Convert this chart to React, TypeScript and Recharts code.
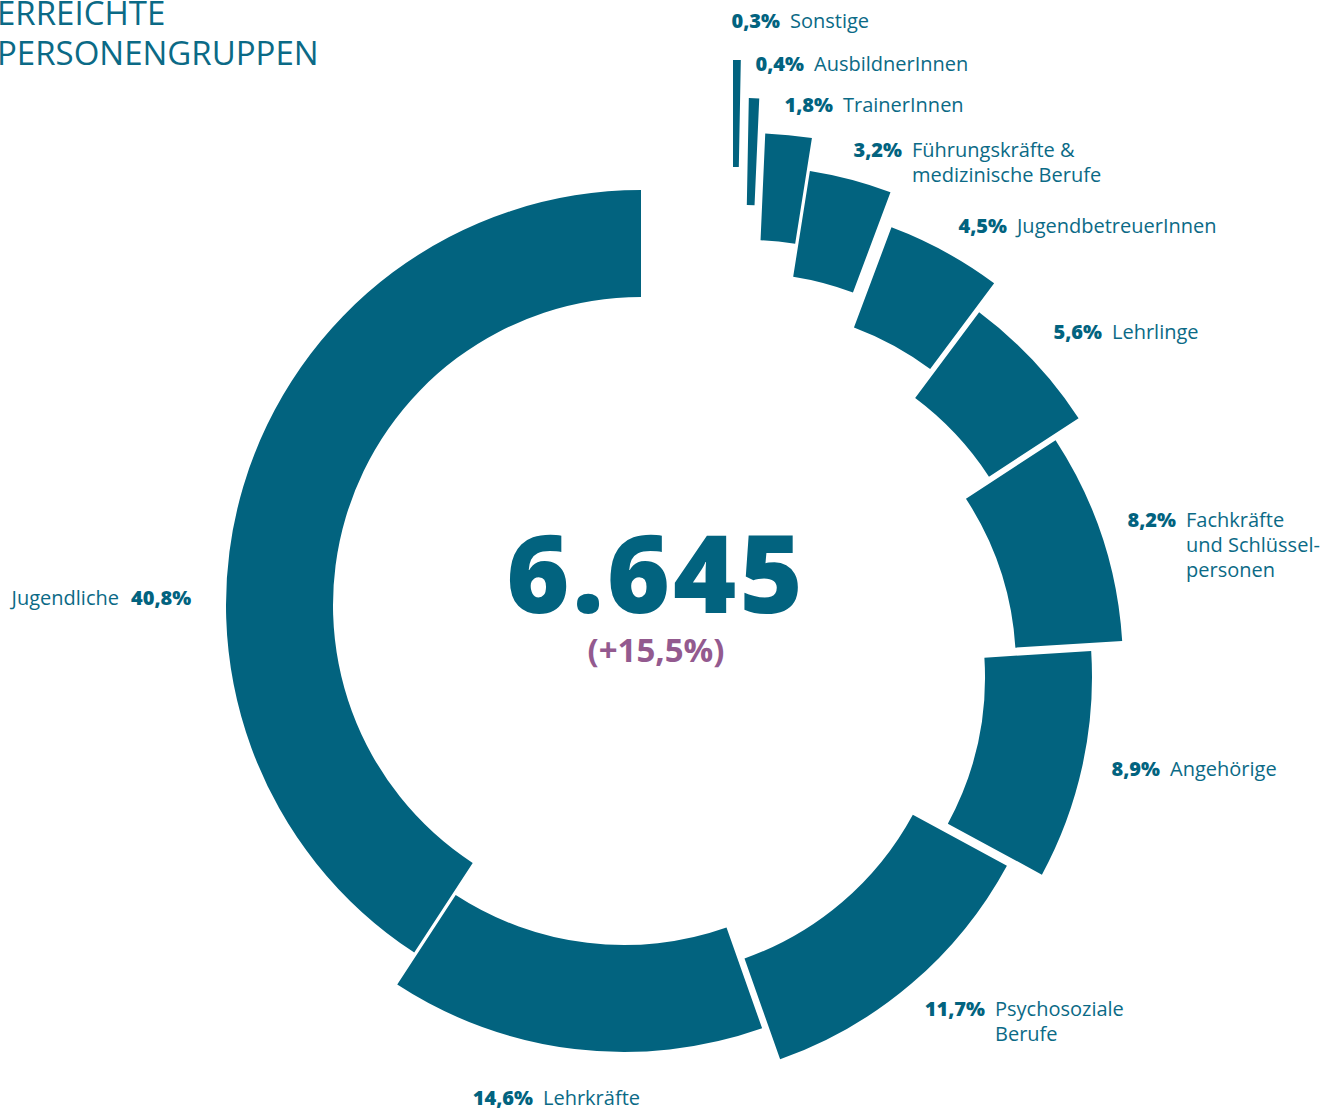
import React from "react";
import { PieChart, Pie, Cell, Label } from "recharts";

// Reached target groups, share in percent (clockwise from 12 o'clock)
const categories = [
  "Sonstige",
  "AusbildnerInnen",
  "TrainerInnen",
  "Führungskräfte & medizinische Berufe",
  "JugendbetreuerInnen",
  "Lehrlinge",
  "Fachkräfte und Schlüsselpersonen",
  "Angehörige",
  "Psychosoziale Berufe",
  "Lehrkräfte",
  "Jugendliche",
];
const shares = [0.3, 0.4, 1.8, 3.2, 4.5, 5.6, 8.2, 8.9, 11.7, 14.6, 40.8];
const labelLines = [
  ["Sonstige"],
  ["AusbildnerInnen"],
  ["TrainerInnen"],
  ["Führungskräfte &", "medizinische Berufe"],
  ["JugendbetreuerInnen"],
  ["Lehrlinge"],
  ["Fachkräfte", "und Schlüssel-", "personen"],
  ["Angehörige"],
  ["Psychosoziale", "Berufe"],
  ["Lehrkräfte"],
  ["Jugendliche"],
];
const total = 6645;
const change = 15.5;

// layout: how far each slice is pushed off the common centre, and where its label sits
const sliceShift = [
  [92, -130], [100, -92], [106, -57], [104, -24], [105, 11], [90, 40],
  [67, 62], [36, 72], [1, 63], [-17, 32], [0, 0],
];
const labelAnchor = [
  [785, 28], [809, 71], [838, 112], [907, 157], [1012, 233], [1107, 339],
  [1181, 527], [1165, 776], [990, 1016], [538, 1105], [125, 605],
];

const CX = 641;
const CY = 605;
const TEAL = "#02637f";
const TEXT = "#0b6a86";
const PURPLE = "#935a8f";
const FONT = "'Open Sans', sans-serif";

const data = categories.map((name, i) => ({ name, value: shares[i] }));

const fmtPct = (v: number) => v.toFixed(1).replace(".", ",") + "%";
const fmtInt = (v: number) => String(v).replace(/\B(?=(\d{3})+(?!\d))/g, ".");

const renderLabel = (props: any) => {
  const i = categories.indexOf(props.name);
  if (i < 0) return null;
  const [ax, ay] = labelAnchor[i];
  const pct = fmtPct(shares[i]);
  const lines = labelLines[i];
  if (i === categories.length - 1) {
    return (
      <g key={"lbl" + i}>
        <text x={ax - 6} y={ay} textAnchor="end" fontFamily={FONT} fontSize={20} fill={TEXT}>
          {lines[0]}
        </text>
        <text x={ax + 6} y={ay} textAnchor="start" fontFamily={FONT} fontSize={20} fontWeight={800} fill={TEAL}>
          {pct}
        </text>
      </g>
    );
  }
  return (
    <g key={"lbl" + i}>
      <text x={ax - 5} y={ay} textAnchor="end" fontFamily={FONT} fontSize={20} fontWeight={800} fill={TEAL}>
        {pct}
      </text>
      {lines.map((ln, j) => (
        <text key={j} x={ax + 5} y={ay + j * 25} textAnchor="start" fontFamily={FONT} fontSize={20} fill={TEXT}>
          {ln}
        </text>
      ))}
    </g>
  );
};

const renderCenter = (props: any) => {
  const vb = props.viewBox || {};
  const x = (vb.cx ?? CX) + 15;
  const y = vb.cy ?? CY;
  return (
    <g>
      <text x={x} y={y + 8} textAnchor="middle" fontFamily={FONT} fontSize={108} fontWeight={800} fill={TEAL} letterSpacing={3}>
        {fmtInt(total)}
      </text>
      <text x={x} y={y + 57} textAnchor="middle" fontFamily={FONT} fontSize={33} fontWeight={700} fill={PURPLE}>
        {"(+" + fmtPct(change) + ")"}
      </text>
    </g>
  );
};

export default function App() {
  return (
    <div style={{ position: "absolute", left: 0, top: 0, width: 1343, height: 1111, background: "#fff", overflow: "hidden" }}>
      <svg width={420} height={80} style={{ position: "absolute", left: 0, top: 0 }}>
        <text x={-3} y={25} fontFamily={FONT} fontSize={33} fill={TEXT}>ERREICHTE</text>
        <text x={-3} y={65} fontFamily={FONT} fontSize={33} fill={TEXT}>PERSONENGRUPPEN</text>
      </svg>
      <PieChart width={1343} height={1111} margin={{ top: 0, right: 0, bottom: 0, left: 0 }}>
        {categories.map((_, k) => (
          <Pie
            key={k}
            data={data}
            dataKey="value"
            nameKey="name"
            cx={CX + sliceShift[k][0]}
            cy={CY + sliceShift[k][1]}
            innerRadius={308}
            outerRadius={415}
            startAngle={90}
            endAngle={-270}
            stroke="none"
            isAnimationActive={false}
            labelLine={false}
            label={k === 0 ? renderLabel : false}
          >
            {data.map((d, i) => (
              <Cell key={d.name} fill={i === k ? TEAL : "transparent"} stroke="none" />
            ))}
            {k === categories.length - 1 && <Label position="center" content={renderCenter} />}
          </Pie>
        ))}
      </PieChart>
    </div>
  );
}
